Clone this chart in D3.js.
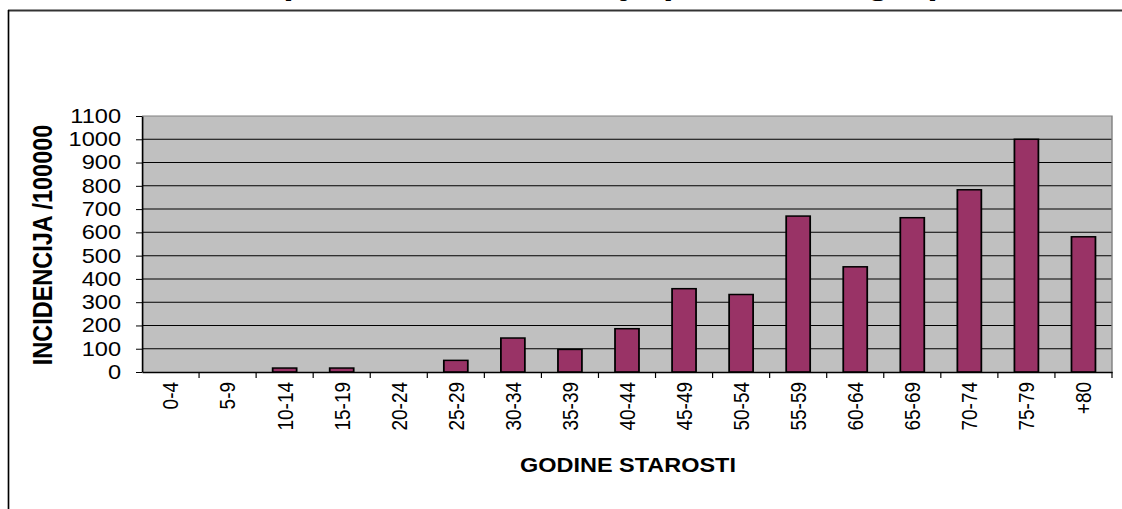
<!DOCTYPE html>
<html>
<head>
<meta charset="utf-8">
<script src="https://cdn.jsdelivr.net/npm/d3@7"></script>
<style>
html, body { margin: 0; padding: 0; background: #fff; overflow: hidden; }
svg { display: block; }
text { font-family: Arial, "Liberation Sans", sans-serif; }
</style>
</head>
<body>
<svg id="chart" width="1122" height="509"></svg>
<script>
// age groups and incidence per 100000
var categories = ["0-4", "5-9", "10-14", "15-19", "20-24", "25-29", "30-34", "35-39", "40-44",
    "45-49", "50-54", "55-59", "60-64", "65-69", "70-74", "75-79", "+80"];
var values = [0, 0, 17, 17, 0, 50, 146, 97, 186, 358, 333, 670, 452, 663, 783, 1000, 581];
var yTicks = [0, 100, 200, 300, 400, 500, 600, 700, 800, 900, 1000, 1100];
var titleText = "Specifična incidencija po dobnim grupama";

// the original picture is a bit wider than tall, so everything is drawn squeezed and stretched back
var stretch = 1.18;
var sx = function (px) { return px / stretch; };

var svg = d3.select('#chart')
    .attr('viewBox', '0 0 ' + sx(1122) + ' 509')
    .attr('preserveAspectRatio', 'none');

var plot = { left: sx(142), right: sx(1112), top: 116, bottom: 372 };

var x = d3.scaleBand()
    .domain(categories)
    .range([plot.left, plot.right])
    .padding(0);
var barW = x.bandwidth() * 0.42;

var y = d3.scaleLinear()
    .domain([0, 1100])
    .range([plot.bottom, plot.top]);

// outer frame (only top and left edges are visible)
svg.append('line')
    .attr('x1', sx(8)).attr('x2', sx(1130))
    .attr('y1', 10.5).attr('y2', 10.5)
    .attr('stroke', '#333').attr('stroke-width', 2);
svg.append('line')
    .attr('x1', sx(8.5)).attr('x2', sx(8.5))
    .attr('y1', 10).attr('y2', 520)
    .attr('stroke', '#000').attr('stroke-width', 1.4);

// title, mostly above the top edge as in the original
svg.append('text')
    .attr('x', sx(642)).attr('y', -6)
    .attr('text-anchor', 'middle')
    .attr('font-weight', 'bold')
    .attr('font-size', 32)
    .text(titleText);

// plot background
svg.append('rect')
    .attr('x', plot.left).attr('y', plot.top)
    .attr('width', plot.right - plot.left)
    .attr('height', plot.bottom - plot.top)
    .attr('fill', '#c0c0c0');

// gridlines
svg.append('g')
    .selectAll('line')
    .data(yTicks.filter(d => d > 0 && d < 1100))
    .enter()
    .append('line')
    .attr('x1', plot.left).attr('x2', plot.right)
    .attr('y1', d => y(d)).attr('y2', d => y(d))
    .attr('stroke', '#000').attr('stroke-width', 1);

// top and right plot border
svg.append('path')
    .attr('d', 'M' + plot.left + ',' + plot.top + 'H' + plot.right + 'V' + plot.bottom)
    .attr('fill', 'none')
    .attr('stroke', '#808080').attr('stroke-width', 1.2);

// bars
svg.append('g')
    .selectAll('rect')
    .data(values.map((v, i) => ({ cat: categories[i], value: v })).filter(d => d.value > 0))
    .enter()
    .append('rect')
    .attr('x', d => x(d.cat) + (x.bandwidth() - barW) / 2)
    .attr('y', d => y(d.value))
    .attr('width', barW)
    .attr('height', d => y(0) - y(d.value))
    .attr('fill', '#993366')
    .attr('stroke', '#000')
    .attr('stroke-width', 1.5);

// y axis
var yAxis = svg.append('g')
    .attr('transform', 'translate(' + plot.left + ',0)')
    .call(d3.axisLeft(y).tickValues(yTicks).tickFormat(d3.format('d'))
        .tickSize(sx(6)).tickPadding(sx(15)).tickSizeOuter(0));
yAxis.select('.domain').attr('stroke', '#000').attr('stroke-width', 1.4);
yAxis.selectAll('.tick line').attr('stroke', '#000');
yAxis.selectAll('text')
    .attr('font-size', 20)
    .attr('font-family', 'Arial, "Liberation Sans", sans-serif')
    .attr('fill', '#000');

// x axis: labels centred, ticks on category boundaries
var xAxis = svg.append('g')
    .attr('transform', 'translate(0,' + plot.bottom + ')')
    .call(d3.axisBottom(x).tickSize(0).tickSizeOuter(0));
xAxis.select('.domain').attr('stroke', '#000').attr('stroke-width', 1.4);
xAxis.selectAll('text')
    .attr('font-size', 19)
    .attr('font-family', 'Arial, "Liberation Sans", sans-serif')
    .attr('fill', '#000')
    .attr('transform', 'rotate(-90)')
    .attr('x', -10)
    .attr('y', 0)
    .attr('dy', '0.35em')
    .style('text-anchor', 'end');

xAxis.append('g')
    .selectAll('line')
    .data(categories.slice(1).concat(['_end']))
    .enter()
    .append('line')
    .attr('x1', (d, i) => x(categories[0]) + (i + 1) * x.step())
    .attr('x2', (d, i) => x(categories[0]) + (i + 1) * x.step())
    .attr('y1', 0).attr('y2', 6)
    .attr('stroke', '#000').attr('stroke-width', 1);

// axis titles
svg.append('text')
    .attr('transform', 'translate(' + sx(42) + ',245) rotate(-90)')
    .attr('text-anchor', 'middle')
    .attr('dy', '0.35em')
    .attr('font-weight', 'bold')
    .attr('font-size', 23.5)
    .text('INCIDENCIJA /100000');

svg.append('text')
    .attr('x', sx(628)).attr('y', 472)
    .attr('text-anchor', 'middle')
    .attr('font-weight', 'bold')
    .attr('font-size', 19.9)
    .text('GODINE STAROSTI');
</script>
</body>
</html>
